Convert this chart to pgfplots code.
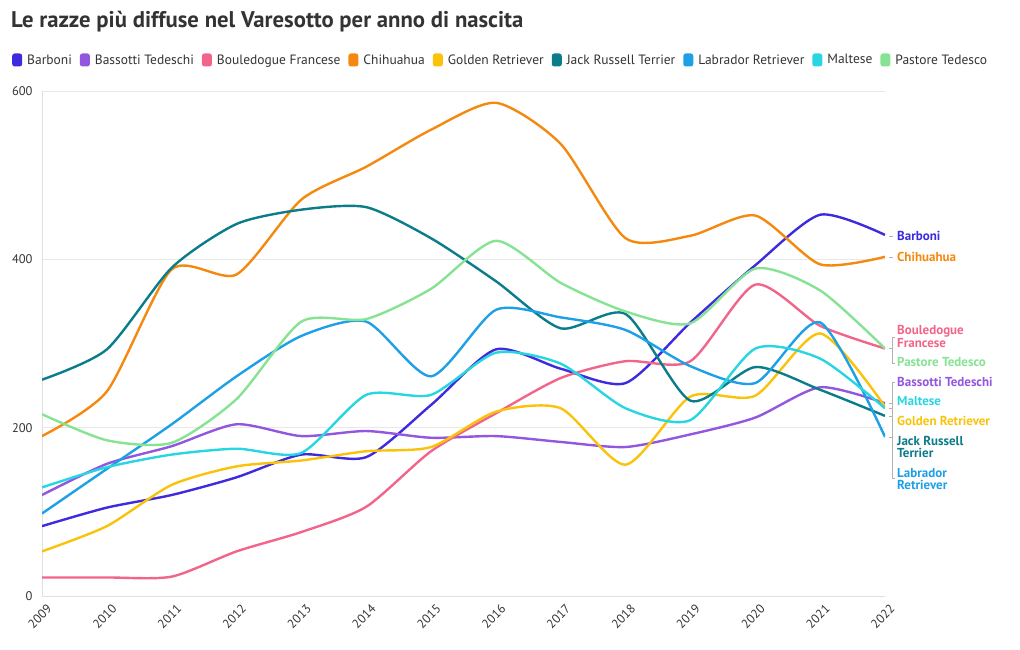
\documentclass[border=0pt]{standalone}
\usepackage{fontspec}
\setmainfont{PT Sans}
\usepackage{pgfplots}
\usepackage{pgfplotstable}
\pgfplotsset{compat=1.18}
\definecolor{cBarb}{RGB}{61,43,221}
\definecolor{cBass}{RGB}{146,87,222}
\definecolor{cBoul}{RGB}{242,101,138}
\definecolor{cChih}{RGB}{245,137,15}
\definecolor{cGold}{RGB}{250,195,10}
\definecolor{cJack}{RGB}{11,124,138}
\definecolor{cLab}{RGB}{30,160,230}
\definecolor{cMalt}{RGB}{40,214,226}
\definecolor{cPast}{RGB}{134,227,148}
\definecolor{txt}{RGB}{51,51,51}
\pgfplotstableread{
year Barb Bass Boul Chih Gold Jack Lab Malt Past
2009 83 120 22 190 53 257 98 129 216
2010 105 157 22 243 83 293 151 153 185
2011 120 178 23 388 132 390 204 168 182
2012 141 204 53 382 154 442 261 175 234
2013 168 190 76 471 161 459 309 170 326
2014 165 196 106 510 172 462 326 239 329
2015 227 188 172 554 177 425 261 239 365
2016 293 190 217 586 219 374 340 289 422
2017 270 183 259 537 223 318 331 276 372
2018 253 177 279 425 156 335 316 223 338
2019 325 192 279 428 237 232 273 209 324
2020 393 212 370 452 238 272 253 294 389
2021 453 248 321 394 312 245 325 282 363
2022 429 229 294 403 225 214 189 223 294
}\data
\begin{document}
\begin{tikzpicture}[x=1bp,y=1bp]
\path[use as bounding box] (0,0) rectangle (1020,650);
\node[anchor=west, font=\bfseries\fontsize{22.7bp}{26bp}\selectfont, text=txt, inner sep=0] at (11,628) {Le razze più diffuse nel Varesotto per anno di nascita};
\begin{axis}[
  at={(42bp,54bp)}, anchor=south west,
  scale only axis, width=843bp, height=505bp,
  xmin=2009, xmax=2022, ymin=0, ymax=600,
  xtick={2009,...,2022}, ytick={0,200,400,600},
  axis lines*=left,
  axis line style={draw=gray!25},
  ymajorgrids, grid style={gray!18, line width=0.6bp},
  major tick length=0pt,
  tick label style={font=\fontsize{12.5bp}{14bp}\selectfont, text=txt},
  /pgf/number format/assume math mode=true,
  /pgf/number format/1000 sep={},
  xticklabel style={rotate=45, anchor=north east, xshift=1bp, yshift=-5bp},
  yticklabel style={xshift=-6bp},
  every axis plot/.append style={smooth, tension=0.42, line width=2.4bp},
  legend columns=9,
  legend style={at={(-0.0356,1.0614)}, anchor=west, draw=none, fill=none, inner sep=0pt,
    font=\fontsize{13.5bp}{15bp}\selectfont, text=txt,
    /tikz/every even column/.append style={column sep=6bp},
    /tikz/every odd column/.append style={column sep=3bp}},
  legend cell align=left,
  legend image code/.code={\fill[#1, draw=none, rounded corners=2.5bp] (0bp,-6.5bp) rectangle (10bp,6.5bp);},
]
\addplot[cBarb] table[x=year,y=Barb]{\data};
\addplot[cBass] table[x=year,y=Bass]{\data};
\addplot[cBoul] table[x=year,y=Boul]{\data};
\addplot[cChih] table[x=year,y=Chih]{\data};
\addplot[cGold] table[x=year,y=Gold]{\data};
\addplot[cJack] table[x=year,y=Jack]{\data};
\addplot[cLab] table[x=year,y=Lab]{\data};
\addplot[cMalt] table[x=year,y=Malt]{\data};
\addplot[cPast] table[x=year,y=Past]{\data};
\legend{Barboni, Bassotti Tedeschi, Bouledogue Francese, Chihuahua, Golden Retriever, Jack Russell Terrier, Labrador Retriever, Maltese, Pastore Tedesco}
\end{axis}
\tikzset{lab/.style={anchor=west, inner sep=0, align=left, font=\bfseries\fontsize{13bp}{12.5bp}\selectfont}}
\node[lab, text=cBarb] at (897,414) {Barboni};
\node[lab, text=cChih] at (897,393) {Chihuahua};
\node[lab, text=cBoul] at (897,313.5) {Bouledogue\\Francese};
\node[lab, text=cPast] at (897,288) {Pastore Tedesco};
\node[lab, text=cBass] at (897,268) {Bassotti Tedeschi};
\node[lab, text=cMalt] at (897,249) {Maltese};
\node[lab, text=cGold] at (897,229) {Golden Retriever};
\node[lab, text=cJack] at (897,203) {Jack Russell\\Terrier};
\node[lab, text=cLab] at (897,171) {Labrador\\Retriever};
\begin{scope}[draw=gray!60, line width=0.7bp]
\draw (889,414)--(893,414);
\draw (889,393)--(893,393);
\draw (895,313)--(892,313)--(892,287)--(895,287);
\draw (889,301.5)--(892,301.5);
\draw (895,268)--(892,268)--(892,172)--(895,172);
\draw (889,246.7)--(892,246.7);
\draw (889,241.7)--(892,241.7);
\draw (889,234.1)--(892,234.1);
\draw (889,213)--(892,213);
\end{scope}
\end{tikzpicture}
\end{document}
